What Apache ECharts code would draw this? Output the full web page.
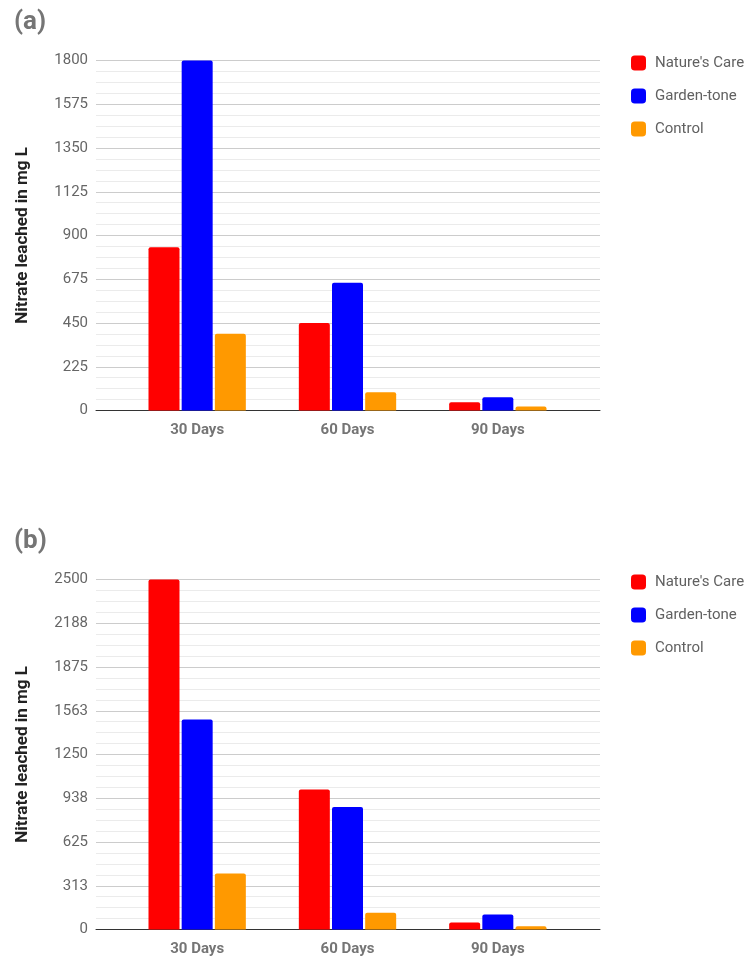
<!DOCTYPE html>
<html>
<head>
<meta charset="utf-8">
<script src="https://cdn.jsdelivr.net/npm/echarts@6/dist/echarts.min.js"></script>
<style>
html,body{margin:0;padding:0;background:#fff;}
#c{width:746px;height:959px;}
</style>
</head>
<body>
<div id="c"></div>
<script>
var categories = ['30 Days', '60 Days', '90 Days'];
var seriesNames = ["Nature's Care", 'Garden-tone', 'Control'];
var aNaturesCare = [840, 450, 42];
var aGardenTone = [1800, 657, 68];
var aControl = [395, 94, 21];
var bNaturesCare = [2500, 1000, 50];
var bGardenTone = [1500, 875, 107];
var bControl = [400, 120, 24];
var ticksA = ['0', '225', '450', '675', '900', '1125', '1350', '1575', '1800'];
var ticksB = ['0', '313', '625', '938', '1250', '1563', '1875', '2188', '2500'];
var colors = ['#ff0000', '#0000ff', '#ff9900'];

var FONT = 'Roboto';
var chart = echarts.init(document.getElementById('c'), null, {renderer: 'canvas'});

var PLOT_TOP_A = 60.5, PLOT_TOP_B = 579.5, PLOT_H = 350;
var BG_LEFT = 96, BG_RIGHT = 146, BAR_LEFT = 122, BAR_RIGHT = 173;

function bgY(gi, ticks, interval) {
  return {
    gridIndex: gi, type: 'value', min: 0, max: interval * (ticks.length - 1), interval: interval,
    name: 'Nitrate leached in mg L', nameLocation: 'middle', nameGap: 65, nameRotate: 90,
    nameTextStyle: {fontFamily: FONT, fontWeight: 'bold', fontSize: 17, color: '#222'},
    axisLine: {show: false}, axisTick: {show: false},
    axisLabel: {fontFamily: FONT, fontSize: 15, color: '#666', margin: 8,
      formatter: function (v) { return ticks[Math.round(v / interval)]; }},
    splitLine: {show: true, lineStyle: {color: '#cccccc', width: 1}},
    minorTick: {show: false, splitNumber: 4},
    minorSplitLine: {show: true, lineStyle: {color: '#ebebeb', width: 1}}
  };
}
function barY(gi, max) {
  return {gridIndex: gi, type: 'value', min: 0, max: max, show: false, splitLine: {show: false}};
}
function bgX(gi) {
  return {gridIndex: gi, type: 'value', min: 0, max: 1, axisLine: {show: true, lineStyle: {color: '#333', width: 1}},
    axisTick: {show: false}, axisLabel: {show: false}, splitLine: {show: false}};
}
function barX(gi) {
  return {gridIndex: gi, type: 'category', data: categories,
    axisLine: {show: false}, axisTick: {show: false},
    axisLabel: {fontFamily: FONT, fontWeight: 'bold', fontSize: 15, color: '#757575', margin: 12}};
}
function bars(xi, vals) {
  return vals.map(function (v, i) {
    return {
      name: seriesNames[i], type: 'bar', xAxisIndex: xi, yAxisIndex: xi, data: v,
      barWidth: 31, barGap: '7%', itemStyle: {color: colors[i], borderRadius: [2, 2, 0, 0]},
      emphasis: {disabled: true}
    };
  });
}
function legend(top) {
  return {
    orient: 'vertical', left: 626, top: top, itemWidth: 15, itemHeight: 15, itemGap: 18,
    icon: 'roundRect', data: seriesNames,
    textStyle: {fontFamily: FONT, fontSize: 15, color: '#616161', padding: [0, 0, 0, 4]}
  };
}

chart.setOption({
  animation: false,
  color: colors,
  title: [
    {text: '(a)', left: 9, top: 4, textStyle: {fontFamily: FONT, fontSize: 26, fontWeight: 'bold', color: '#757575'}},
    {text: '(b)', left: 9, top: 523, textStyle: {fontFamily: FONT, fontSize: 26, fontWeight: 'bold', color: '#757575'}}
  ],
  legend: [legend(PLOT_TOP_A - 10), legend(PLOT_TOP_B - 10)],
  grid: [
    {left: BG_LEFT, right: BG_RIGHT, top: PLOT_TOP_A, height: PLOT_H},
    {left: BAR_LEFT, right: BAR_RIGHT, top: PLOT_TOP_A, height: PLOT_H},
    {left: BG_LEFT, right: BG_RIGHT, top: PLOT_TOP_B, height: PLOT_H},
    {left: BAR_LEFT, right: BAR_RIGHT, top: PLOT_TOP_B, height: PLOT_H}
  ],
  xAxis: [bgX(0), barX(1), bgX(2), barX(3)],
  yAxis: [bgY(0, ticksA, 225), barY(1, 1800), bgY(2, ticksB, 312.5), barY(3, 2500)],
  series: bars(1, [aNaturesCare, aGardenTone, aControl]).concat(bars(3, [bNaturesCare, bGardenTone, bControl]))
});
</script>
</body>
</html>
